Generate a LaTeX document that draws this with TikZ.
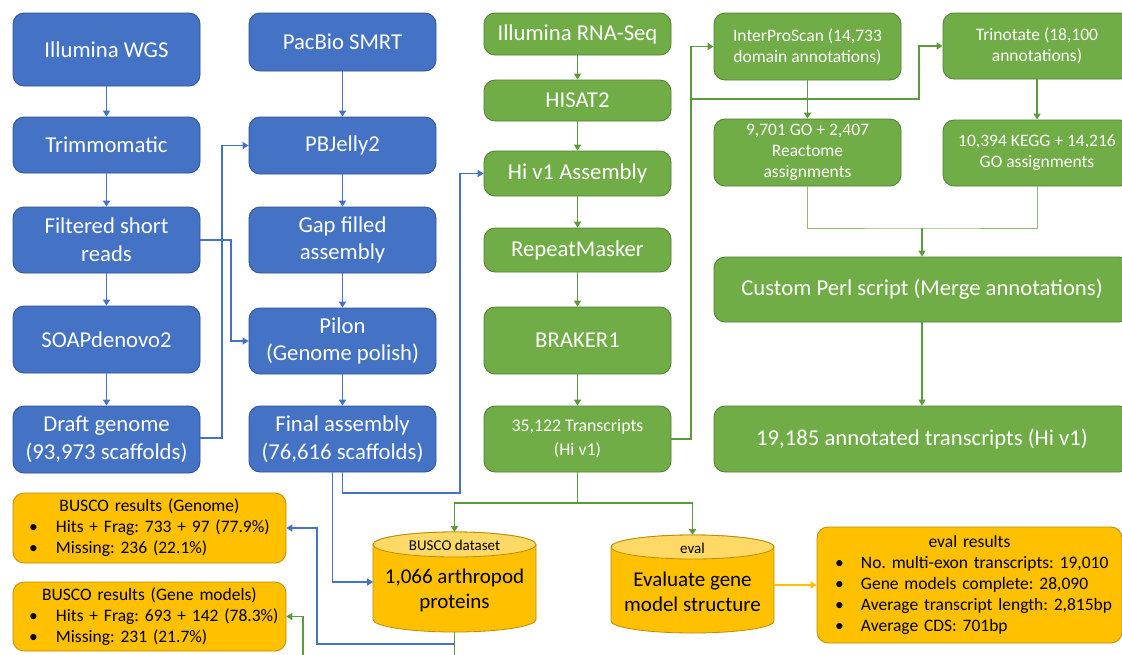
\documentclass[tikz,border=0pt]{standalone}
\usepackage{fontspec}
\setmainfont{Carlito}
\usetikzlibrary{arrows.meta,calc}
\definecolor{bfill}{HTML}{4472C4}
\definecolor{bdraw}{HTML}{2F528F}
\definecolor{gfill}{HTML}{70AD47}
\definecolor{gdraw}{HTML}{507E32}
\definecolor{yfill}{HTML}{FFC000}
\definecolor{ydraw}{HTML}{BC8C00}
\definecolor{ytop}{HTML}{FFD966}
\definecolor{bline}{HTML}{4472C4}
\definecolor{gline}{HTML}{5B9B3B}
\definecolor{glight}{HTML}{8DBF6E}
\definecolor{oline}{HTML}{FFC000}
\newcommand\myline[2]{\makebox[\linewidth][l]{\makebox[#1pt][l]{\textbullet}#2}}
\frenchspacing
\begin{document}
\begin{tikzpicture}[x=1pt,y=-1pt,
  sz/.style 2 args={minimum width=#1pt, minimum height=#2pt},
  box/.style={rounded corners=11pt, line width=0.8pt, text=white, align=center, inner sep=2pt},
  bbox/.style={box, fill=bfill, draw=bdraw, font=\fontsize{22.7}{27.7}\selectfont},
  gbox/.style={box, fill=gfill, draw=gdraw, font=\fontsize{22.7}{27.7}\selectfont},
  gsmall/.style={box, fill=gfill, draw=gdraw, font=\fontsize{17.5}{21}\selectfont},
  ybox/.style={rounded corners=11pt, line width=0.8pt, fill=yfill, draw=ydraw, align=left,
    font=\fontsize{17.5}{21}\selectfont, inner ysep=2pt},
  cyl/.style={fill=yfill, draw=ydraw, line width=0.8pt},
  cyltop/.style={fill=ytop, draw=ydraw, line width=0.8pt},
  tip/.style={-{Triangle[width=7pt,length=6pt]}},
  barrow/.style={draw=bline, line width=1.6pt, tip},
  garrow/.style={draw=gline, line width=1.6pt, tip},
  gplain/.style={draw=gline, line width=1.6pt},
  glite/.style={draw=glight, line width=1pt},
  oarrow/.style={draw=oline, line width=1.6pt, tip},
]
\clip (0,0) rectangle (1122,654);
\fill[white] (0,0) rectangle (1122,654);

% blue column 1
\node[bbox, sz={187}{73}] (wgs) at (106.5,49.5) {Illumina WGS};
\node[bbox, sz={187}{56}] (trim) at (106.5,145) {Trimmomatic};
\node[bbox, sz={187}{66}] (filt) at (106.5,240) {Filtered short\\reads};
\node[bbox, sz={187}{67}] (soap) at (106.5,339.5) {SOAPdenovo2};
\node[bbox, sz={187}{67}] (draft) at (106.5,439.5) {Draft genome\\(93,973 scaffolds)};

% blue column 2
\node[bbox, sz={187}{58}] (pacbio) at (342.5,42) {PacBio SMRT};
\node[bbox, sz={187}{57}] (pbj) at (342.5,145.5) {PBJelly2};
\node[bbox, sz={187}{66}] (gap) at (342.5,240) {Gap filled\\assembly};
\node[bbox, sz={187}{66}] (pilon) at (342.5,341) {Pilon\\(Genome polish)};
\node[bbox, sz={187}{66}] (final) at (342.5,439) {Final assembly\\(76,616 scaffolds)};

% green column
\node[gbox, sz={187}{42}] (rna) at (577.5,34) {Illumina RNA-Seq};
\node[gbox, sz={187}{41}] (hisat) at (577.5,100.5) {HISAT2};
\node[gbox, sz={187}{45}] (hiv1) at (577.5,173.5) {Hi v1 Assembly};
\node[gbox, sz={187}{44}] (repeat) at (577.5,250) {RepeatMasker};
\node[gbox, sz={187}{67}] (braker) at (577.5,340.5) {BRAKER1};
\node[gsmall, sz={187}{66}, font=\fontsize{17.8}{24}\selectfont] (trans) at (577.5,439) {35,122 Transcripts\\(Hi v1)};

% annotation boxes
\node[gsmall, sz={187}{67}] (ipr) at (807.5,46.5) {InterProScan (14,733\\domain annotations)};
\node[gsmall, sz={188}{66}] (trino) at (1037,46) {Trinotate (18,100\\annotations)};
\node[gsmall, sz={187}{67}] (go) at (807.5,152.5) {9,701 GO + 2,407\\Reactome\\assignments};
\node[gsmall, sz={188}{66}] (kegg) at (1037,153) {10,394 KEGG + 14,216\\GO assignments};
\node[gbox, sz={416}{65}] (perl) at (922,289.5) {Custom Perl script (Merge annotations)};
\node[gbox, sz={416}{66}] (annot) at (922,439) {19,185 annotated transcripts (Hi v1)};

% BUSCO result boxes
\node[ybox, sz={273}{70}, text width=241pt, inner xsep=16pt] (bg) at (149.5,528)
  {\makebox[\linewidth]{BUSCO results (Genome)}\\
   \myline{27}{Hits + Frag: 733 + 97 (77.9\%)}\\
   \myline{27}{Missing: 236 (22.1\%)}};
\node[ybox, sz={273}{69}, text width=241pt, inner xsep=16pt] (bm) at (149.5,616.5)
  {\makebox[\linewidth]{BUSCO results (Gene models)}\\
   \myline{27}{Hits + Frag: 693 + 142 (78.3\%)}\\
   \myline{27}{Missing: 231 (21.7\%)}};
\node[ybox, sz={305}{116}, text width=269pt, inner xsep=18pt] (evres) at (969.5,585)
  {\makebox[\linewidth]{eval results}\\
   \myline{26}{No. multi-exon transcripts: 19,010}\\
   \myline{26}{Gene models complete: 28,090}\\
   \myline{26}{Average transcript length: 2,815bp}\\
   \myline{26}{Average CDS: 701bp}};

% BUSCO dataset cylinder
\path[cyl] (373,544.5) -- (373,619.5)
  arc[start angle=180, end angle=360, x radius=81.5pt, y radius=12.5pt]
  -- (536,544.5)
  arc[start angle=0, end angle=180, x radius=81.5pt, y radius=12.5pt] -- cycle;
\draw[cyltop] (454.5,544.5) ellipse [x radius=81.5pt, y radius=12.5pt];
\node[font=\fontsize{15}{18}\selectfont] (bdt) at (454.5,545) {BUSCO dataset};
\node[font=\fontsize{21}{25}\selectfont, align=center] (bdp) at (454.5,590) {1,066 arthropod\\proteins};
\coordinate (buscoT) at (454.5,532);
\coordinate (buscoB) at (454.5,632);
\coordinate (buscoL) at (373,582);

% eval cylinder
\path[cyl] (611,547) -- (611,621)
  arc[start angle=180, end angle=360, x radius=81.5pt, y radius=12pt]
  -- (774,547)
  arc[start angle=0, end angle=180, x radius=81.5pt, y radius=12pt] -- cycle;
\draw[cyltop] (692.5,547) ellipse [x radius=81.5pt, y radius=12pt];
\node[font=\fontsize{15}{18}\selectfont] (evt) at (692.5,548) {eval};
\node[font=\fontsize{21}{25}\selectfont, align=center] (evp) at (692.5,592) {Evaluate gene\\model structure};
\coordinate (evalT) at (692.5,535);
\coordinate (evalR) at (774,585);

% blue connectors
\draw[barrow] (wgs) -- (trim);
\draw[barrow] (trim) -- (filt);
\draw[barrow] (filt) -- (soap);
\draw[barrow] (soap) -- (draft);
\draw[barrow] (pacbio) -- (pbj);
\draw[barrow] (pbj) -- (gap);
\draw[barrow] (gap) -- (pilon);
\draw[barrow] (pilon) -- (final);
\coordinate (bd) at (222,438);
\draw[barrow] (draft.east |- bd) -- (bd) |- (pbj.west);
\coordinate (bf) at (231,240);
\draw[barrow] (filt.east) -- (bf) |- (pilon.west);
\coordinate (bj) at (460,493);
\draw[barrow] (final.south) |- (bj) |- (hiv1.west);
\draw[barrow] ([xshift=-10pt]final.south) |- (buscoL);

% green connectors
\draw[garrow] (rna) -- (hisat);
\draw[garrow] (hisat) -- (hiv1);
\draw[garrow] (hiv1) -- (repeat);
\draw[garrow] (repeat) -- (braker);
\draw[garrow] (braker) -- (trans);
\coordinate (gx) at (691,99);
\coordinate (gy) at (919,99);
\draw[garrow] (trans.east) -| (gx) |- (ipr.west);
\draw[garrow] (gx) -- (gy) |- (trino.west);
\draw[garrow] (ipr) -- (go);
\draw[garrow] (trino) -- (kegg);
\coordinate (gm) at (922,228);
\draw[glite] (go.south) |- (gm) -| (kegg.south);
\draw[garrow] (gm) -- (perl.north);
\draw[garrow] (perl) -- (annot);
\coordinate (gs) at (577.5,503);
\draw[gplain] (trans.south) -- (gs);
\draw[garrow] (gs) -| (buscoT);
\draw[garrow] (gs) -| (evalT);
\coordinate (gq) at (303,665);
\draw[garrow] (buscoB) |- (gq) |- (bm.east);

% blue from BUSCO dataset to genome results
\coordinate (bq) at (454.5,644);
\coordinate (bk) at (317,644);
\draw[barrow] (bq) -- (bk) |- (bg.east);

% orange
\draw[oarrow] (evalR) -- (evres.west);
\end{tikzpicture}
\end{document}
